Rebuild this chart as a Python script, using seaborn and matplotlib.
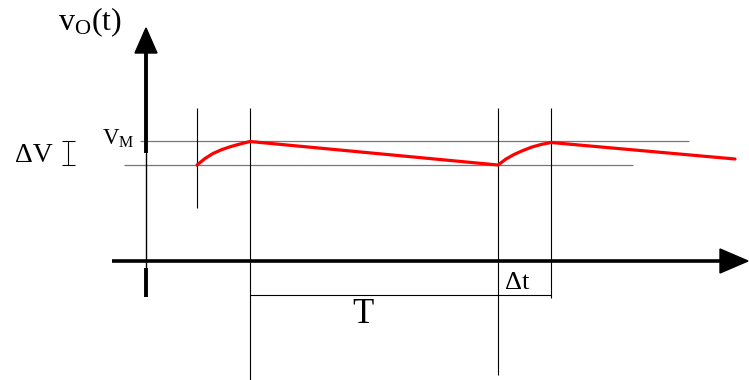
import numpy as np
import pandas as pd
import matplotlib
matplotlib.use("Agg")
import matplotlib.pyplot as plt
import seaborn as sns
from matplotlib.patches import Polygon

# точки выходного напряжения (в координатах рисунка: t вправо, v вниз)
t_pts = [197, 205, 213, 222, 231, 240, 250, 498, 506, 514, 523, 532, 541, 551, 735]
v_pts = [165, 158.5, 153.5, 149.5, 146.5, 144, 141.5, 165, 159, 154.5, 150.5, 147, 144.5, 142.5, 159]

# уровни и моменты времени для вспомогательных линий
v_max = 141
v_min = 165
t_marks = [197, 250, 498, 551]
t_marks_top = [108, 108, 108, 108]
t_marks_bottom = [208, 380, 375, 298]

sns.set_theme(style="white")
plt.rcParams['font.family'] = ['Liberation Serif', 'DejaVu Serif']
plt.rcParams['mathtext.fontset'] = 'custom'
plt.rcParams['mathtext.rm'] = 'Liberation Serif'
plt.rcParams['mathtext.it'] = 'Liberation Serif:italic'
plt.rcParams['text.color'] = 'black'

fig = plt.figure(figsize=(7.49, 3.80), dpi=100)
ax = fig.add_axes([0, 0, 1, 1])

# вспомогательные горизонтальные линии
ax.hlines(v_max, 140, 689, color='#777777', lw=0.9)
ax.hlines(v_min, 124, 633, color='#777777', lw=0.9)
# вертикальные отметки
ax.vlines(t_marks, t_marks_top, t_marks_bottom, color='black', lw=0.8)
# отрезок периода T
ax.hlines(295, t_marks[1], t_marks[3], color='black', lw=0.8)
# скобка ΔV
ax.vlines(68, v_max, v_min, color='black', lw=0.8)
ax.hlines([v_max, v_min], 62, 75, color='black', lw=0.8)

# оси со стрелками
ax.plot([146, 146], [53, 153], color='black', lw=2.8, solid_capstyle='butt')
ax.plot([146, 146], [153, 268], color='black', lw=1.0)
ax.plot([146, 146], [268, 297], color='black', lw=2.8, solid_capstyle='butt')
ax.add_patch(Polygon([[135, 53], [157, 53], [146, 28]], closed=True, color='black'))
ax.plot([112, 721], [261, 261], color='black', lw=2.6, solid_capstyle='butt')
ax.add_patch(Polygon([[720, 249], [720, 273], [748, 261]], closed=True, color='black'))

# сигнал
df = pd.DataFrame({'t': t_pts, 'v': v_pts})
sns.lineplot(data=df, x='t', y='v', ax=ax, color='red', lw=2.3,
             sort=False, estimator=None)
ax.set_xlim(0, 749)
ax.set_ylim(380, 0)
ax.axis('off')

# подписи
ax.text(58, 30, r'$\mathrm{v_O(t)}$', fontsize=23, va='baseline', ha='left', color='black')
ax.text(102, 145, r'$\mathrm{V_M}$', fontsize=16.5, va='baseline', ha='left', color='black')
ax.text(15, 162, 'ΔV', fontsize=20, va='baseline', ha='left', color='black')
ax.text(352, 323, 'T', fontsize=25, va='baseline', ha='left', color='black')
ax.text(505, 289, 'Δt', fontsize=19, va='baseline', ha='left', color='black')

fig.savefig('out.png', dpi=100)
